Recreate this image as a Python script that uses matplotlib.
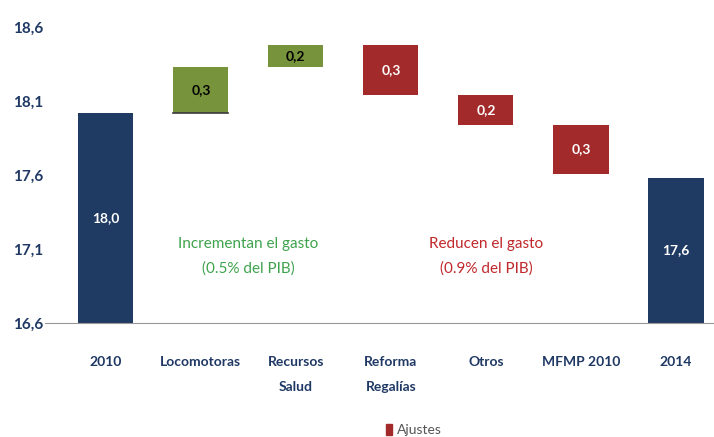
import numpy as np
import matplotlib
matplotlib.use("Agg")
from matplotlib import pyplot as plt
from matplotlib.patches import Patch

# categorias e valores
categorias = ["2010", "Locomotoras", "Recursos\nSalud", "Reforma\nRegalías", "Otros", "MFMP 2010", "2014"]
inicio = 18.02
fim = 17.58
ajustes = [0.31, 0.15, -0.34, -0.20, -0.33]
rotulos = ["18,0", "0,3", "0,2", "0,3", "0,2", "0,3", "17,6"]
yticks = [16.6, 17.1, 17.6, 18.1, 18.6]
ytick_labels = ["16,6", "17,1", "17,6", "18,1", "18,6"]

azul = "#1F3A63"
verde = "#77933C"
vermelho = "#A32A2B"
texto_azul = "#1F3864"

plt.rcParams['font.family'] = ['Lato', 'DejaVu Sans']

fig = plt.figure(figsize=(7.14, 4.37), dpi=100)
ax = fig.add_axes([0.063, 0.261, 0.937, 0.677])

x = np.arange(len(categorias))
largura = 0.58
base = 16.6

# barras de total
ax.bar(x[0], inicio - base, bottom=base, width=largura, color=azul)
ax.bar(x[-1], fim - base, bottom=base, width=largura, color=azul)
ax.text(x[0], (inicio + base) / 2, rotulos[0], ha="center", va="center",
        color="white", fontsize=10, fontweight="bold")
ax.text(x[-1], (fim + base) / 2, rotulos[-1], ha="center", va="center",
        color="white", fontsize=10, fontweight="bold")

# barras de ajuste (cascata)
nivel = inicio
for i, a in enumerate(ajustes):
    cor = verde if a > 0 else vermelho
    baixo = nivel if a > 0 else nivel + a
    ax.bar(x[i + 1], abs(a), bottom=baixo, width=largura, color=cor)
    cor_txt = "black" if a > 0 else "white"
    ax.text(x[i + 1], baixo + abs(a) / 2, rotulos[i + 1], ha="center", va="center",
            color=cor_txt, fontsize=10, fontweight="bold")
    nivel += a

# linha na base da barra Locomotoras
ax.plot([x[1] - largura / 2, x[1] + largura / 2], [inicio, inicio], color="#3a3a3a", lw=1.2)

# textos de anotacao
ax.text(1.5, 17.05, "Incrementan el gasto\n(0.5% del PIB)", ha="center", va="center",
        color="#3FA34D", fontsize=11, linespacing=1.9)
ax.text(4.0, 17.05, "Reducen el gasto\n(0.9% del PIB)", ha="center", va="center",
        color="#C0282B", fontsize=11, linespacing=1.9)

ax.set_xlim(-0.64, 6.4)
ax.set_ylim(16.6, 18.6)
ax.set_yticks(yticks)
ax.set_yticklabels(ytick_labels, color=texto_azul, fontsize=11, fontweight="bold")
ax.set_xticks(x)
ax.set_xticklabels(categorias, color=texto_azul, fontsize=10, fontweight="bold", linespacing=2.3)
ax.tick_params(axis="both", length=0)
ax.tick_params(axis="x", pad=24)
ax.tick_params(axis="y", pad=1)

for lado in ["top", "right", "left"]:
    ax.spines[lado].set_visible(False)
ax.spines["bottom"].set_color("#999999")

fig.legend(handles=[Patch(color=vermelho, label="Ajustes")], loc="center",
           bbox_to_anchor=(0.58, 0.016), frameon=False, fontsize=10,
           handlelength=0.4, handleheight=0.8, handletextpad=0.4,
           labelcolor="#555555")

fig.savefig("out.png", dpi=100)
